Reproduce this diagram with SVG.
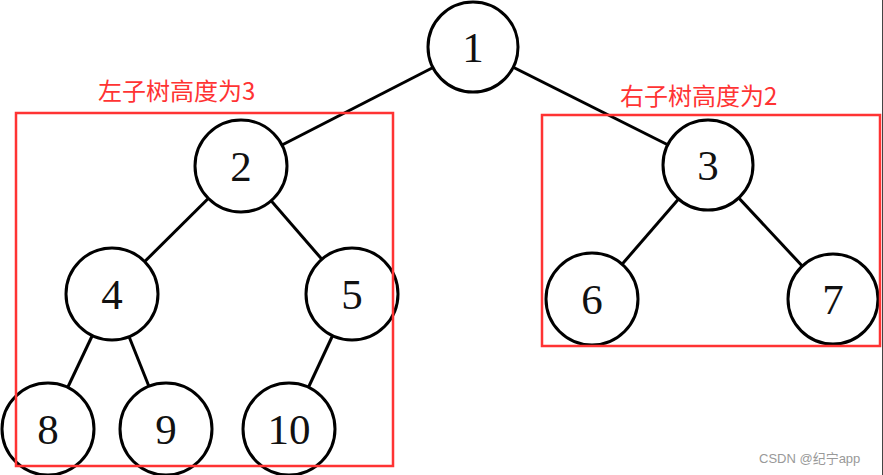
<svg xmlns="http://www.w3.org/2000/svg" width="883" height="475" viewBox="0 0 883 475">
<style>
.n circle{fill:#fff;stroke:#000;stroke-width:3}
.n text{font-family:"Liberation Serif",serif;font-size:43px;text-anchor:middle;fill:#111}
#edges line{stroke:#000;stroke-width:3}
.box{fill:none;stroke:#f33;stroke-width:2.5}
.lbl{font-family:"Noto Sans CJK SC",sans-serif;font-size:24px;fill:#f33}
</style>
<rect width="883" height="475" fill="#fff"/>
<g id="edges">
<line x1="473" y1="47" x2="241" y2="166"/>
<line x1="473" y1="47" x2="708" y2="165"/>
<line x1="241" y1="166" x2="112" y2="294"/>
<line x1="241" y1="166" x2="352" y2="294"/>
<line x1="708" y1="165" x2="592" y2="299"/>
<line x1="708" y1="165" x2="833" y2="299"/>
<line x1="112" y1="294" x2="48" y2="429"/>
<line x1="112" y1="294" x2="166" y2="429"/>
<line x1="352" y1="294" x2="289" y2="429"/>
</g>
<g id="n1" class="n"><circle cx="473" cy="47" r="45"/><text x="473" y="62">1</text></g>
<g id="n2" class="n"><circle cx="241" cy="166" r="46"/><text x="241" y="181">2</text></g>
<g id="n3" class="n"><circle cx="708" cy="165" r="45"/><text x="708" y="180">3</text></g>
<g id="n4" class="n"><circle cx="112" cy="294" r="46"/><text x="112" y="309">4</text></g>
<g id="n5" class="n"><circle cx="352" cy="294" r="46"/><text x="352" y="309">5</text></g>
<g id="n6" class="n"><circle cx="592" cy="299" r="46"/><text x="592" y="314">6</text></g>
<g id="n7" class="n"><circle cx="833" cy="299" r="45"/><text x="833" y="314">7</text></g>
<g id="n8" class="n"><circle cx="48" cy="429" r="46"/><text x="48" y="444">8</text></g>
<g id="n9" class="n"><circle cx="166" cy="429" r="46"/><text x="166" y="444">9</text></g>
<g id="n10" class="n"><circle cx="289" cy="429" r="46"/><text x="289" y="444">10</text></g>
<rect class="box" x="16" y="113" width="377" height="353"/>
<rect class="box" x="542" y="115" width="338" height="231"/>
<text class="lbl" x="98" y="100">左子树高度为3</text>
<text class="lbl" x="620" y="105">右子树高度为2</text>
<line x1="882.5" y1="0" x2="882.5" y2="475" stroke="#444" stroke-width="1"/>
<text x="759" y="463" font-family="'Liberation Sans','Noto Sans CJK SC',sans-serif" font-size="13" fill="#999">CSDN @纪宁app</text>
</svg>
